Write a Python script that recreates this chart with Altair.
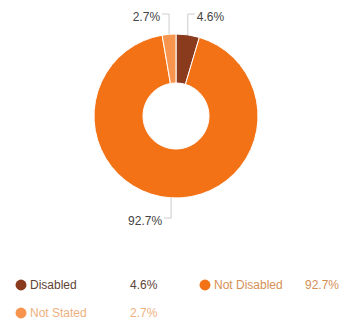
import altair as alt
import pandas as pd

categories = ["Disabled", "Not Disabled", "Not Stated"]
values = [4.6, 92.7, 2.7]
labels = ["4.6%", "92.7%", "2.7%"]
slice_colors = ["#8a3b1e", "#f47216", "#f7954f"]
text_colors = ["#5e4336", "#d58f55", "#eeb07f"]

df = pd.DataFrame({
    "category": categories,
    "value": values,
    "label": labels,
    "idx": list(range(len(categories))),
    "tcolor": text_colors,
})

CX, CY, R, RI = 176, 116, 82, 33
FONT = "Liberation Sans"

base = alt.Chart(df)
color = alt.Color("category:N", scale=alt.Scale(domain=categories, range=slice_colors), legend=None)

arcs = base.mark_arc(outerRadius=R, innerRadius=RI, stroke="white", strokeWidth=1).encode(
    theta=alt.Theta("value:Q", stack=True),
    order=alt.Order("idx:Q"),
    color=color,
    x=alt.value(CX),
    y=alt.value(CY),
)

geo = base.transform_window(
    cum="sum(value)", sort=[alt.SortField("idx")]
).transform_joinaggregate(
    total="sum(value)"
).transform_calculate(
    mid=f"(datum.cum - datum.value/2) / datum.total * 2 * PI",
).transform_calculate(
    x0=f"{CX} + {R} * sin(datum.mid)",
    y0=f"{CY} - {R} * cos(datum.mid)",
    side="sin(datum.mid) >= 0 ? 1 : -1",
    yl="cos(datum.mid) > 0 ? 14 : 218",
).transform_calculate(
    x1="datum.x0 + datum.side * 7",
    xt="datum.x0 + datum.side * 9",
)

vline = geo.mark_rule(color="#cccccc", strokeWidth=1).encode(
    x=alt.X("x0:Q", scale=None), x2="x0:Q",
    y=alt.Y("y0:Q", scale=None), y2="yl:Q",
)
hline = geo.mark_rule(color="#cccccc", strokeWidth=1).encode(
    x=alt.X("x0:Q", scale=None), x2="x1:Q",
    y=alt.Y("yl:Q", scale=None), y2="yl:Q",
)
lab_r = geo.transform_filter("datum.side > 0").mark_text(
    align="left", baseline="middle", font=FONT, fontSize=12, color="#444444", dy=3
).encode(x=alt.X("xt:Q", scale=None), y=alt.Y("yl:Q", scale=None), text="label:N")
lab_l = geo.transform_filter("datum.side < 0").mark_text(
    align="right", baseline="middle", font=FONT, fontSize=12, color="#444444", dy=3
).encode(x=alt.X("xt:Q", scale=None), y=alt.Y("yl:Q", scale=None), text="label:N")

leg = base.transform_calculate(
    col="datum.idx % 2",
    row="floor(datum.idx / 2)",
).transform_calculate(
    lx="21 + datum.col * 184",
    ly="285 + datum.row * 28",
).transform_calculate(
    tx="datum.lx + 9",
    vx="datum.lx + 109 + datum.col * -9",
)

dots = leg.mark_point(filled=True, size=120, opacity=1, shape="circle").encode(
    x=alt.X("lx:Q", scale=None), y=alt.Y("ly:Q", scale=None), color=color,
)
names = leg.mark_text(align="left", baseline="middle", font=FONT, fontSize=12).encode(
    x=alt.X("tx:Q", scale=None), y=alt.Y("ly:Q", scale=None), text="category:N",
    color=alt.Color("tcolor:N", scale=None),
)
vals = leg.mark_text(align="left", baseline="middle", font=FONT, fontSize=12).encode(
    x=alt.X("vx:Q", scale=None), y=alt.Y("ly:Q", scale=None), text="label:N",
    color=alt.Color("tcolor:N", scale=None),
)

chart = alt.layer(arcs, vline, hline, lab_r, lab_l, dots, names, vals).properties(
    width=341, height=320, autosize=alt.AutoSizeParams(type="none"), padding=0,
    background="white",
).configure_view(stroke=None)

chart.save("out.html", embed_options={"renderer": "svg", "actions": False})
